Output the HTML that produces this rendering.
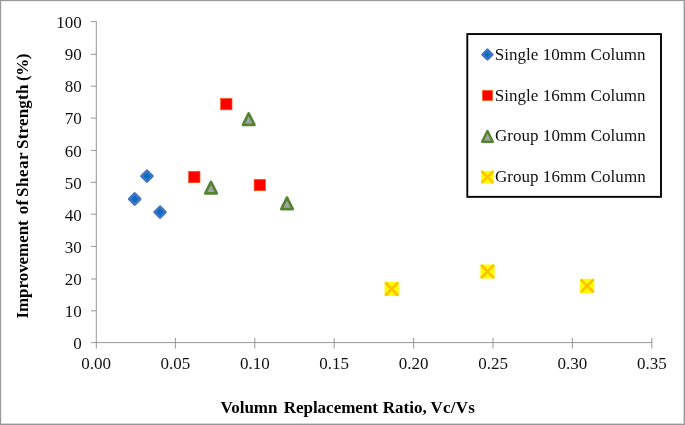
<!DOCTYPE html>
<html><head><meta charset="utf-8"><title>chart</title>
<style>
html,body{margin:0;padding:0;background:#fff;}
body{width:685px;height:425px;overflow:hidden;}
svg{display:block;will-change:transform;}
text{font-family:"Liberation Serif",serif;fill:#111;}
.t{font-size:17px;}
.b{font-size:17px;font-weight:bold;fill:#000;}
</style></head><body>
<svg width="685" height="425" viewBox="0 0 685 425">
<rect x="0" y="0" width="685" height="425" fill="#fff"/>
<g shape-rendering="crispEdges"><rect x="0" y="1" width="685" height="1" fill="#eeeeee"/><rect x="1" y="0" width="1" height="425" fill="#eeeeee"/><rect x="0" y="423" width="685" height="1" fill="#d6d6d6"/><rect x="683" y="0" width="1" height="425" fill="#d6d6d6"/><rect x="0" y="0" width="685" height="1" fill="#9a9a9a"/><rect x="0" y="0" width="1" height="425" fill="#9a9a9a"/><rect x="0" y="424" width="685" height="1" fill="#979797"/><rect x="684" y="0" width="1" height="425" fill="#979797"/></g>
<g stroke="#8c8c8c" stroke-width="0.9" fill="none">
<line x1="96.3" y1="21.2" x2="96.3" y2="348.6"/>
<line x1="91" y1="342.6" x2="652.2" y2="342.6"/>
<line x1="91" y1="310.80" x2="96.3" y2="310.80"/>
<line x1="91" y1="279.00" x2="96.3" y2="279.00"/>
<line x1="91" y1="246.40" x2="96.3" y2="246.40"/>
<line x1="91" y1="214.20" x2="96.3" y2="214.20"/>
<line x1="91" y1="182.30" x2="96.3" y2="182.30"/>
<line x1="91" y1="150.40" x2="96.3" y2="150.40"/>
<line x1="91" y1="118.10" x2="96.3" y2="118.10"/>
<line x1="91" y1="86.20" x2="96.3" y2="86.20"/>
<line x1="91" y1="54.30" x2="96.3" y2="54.30"/>
<line x1="91" y1="21.60" x2="96.3" y2="21.60"/>
<line x1="175.40" y1="337.9" x2="175.40" y2="348.5"/>
<line x1="254.80" y1="337.9" x2="254.80" y2="348.5"/>
<line x1="334.20" y1="337.9" x2="334.20" y2="348.5"/>
<line x1="413.60" y1="337.9" x2="413.60" y2="348.5"/>
<line x1="493.00" y1="337.9" x2="493.00" y2="348.5"/>
<line x1="572.40" y1="337.9" x2="572.40" y2="348.5"/>
<line x1="651.80" y1="337.9" x2="651.80" y2="348.5"/>
</g>
<text class="t" x="81.7" y="349.20" text-anchor="end">0</text>
<text class="t" x="81.7" y="317.09" text-anchor="end">10</text>
<text class="t" x="81.7" y="284.98" text-anchor="end">20</text>
<text class="t" x="81.7" y="252.87" text-anchor="end">30</text>
<text class="t" x="81.7" y="220.76" text-anchor="end">40</text>
<text class="t" x="81.7" y="188.65" text-anchor="end">50</text>
<text class="t" x="81.7" y="156.54" text-anchor="end">60</text>
<text class="t" x="81.7" y="124.43" text-anchor="end">70</text>
<text class="t" x="81.7" y="92.32" text-anchor="end">80</text>
<text class="t" x="81.7" y="60.21" text-anchor="end">90</text>
<text class="t" x="81.7" y="28.10" text-anchor="end">100</text>
<text class="t" x="96.00" y="368.6" text-anchor="middle">0.00</text>
<text class="t" x="175.40" y="368.6" text-anchor="middle">0.05</text>
<text class="t" x="254.80" y="368.6" text-anchor="middle">0.10</text>
<text class="t" x="334.20" y="368.6" text-anchor="middle">0.15</text>
<text class="t" x="413.60" y="368.6" text-anchor="middle">0.20</text>
<text class="t" x="493.00" y="368.6" text-anchor="middle">0.25</text>
<text class="t" x="572.40" y="368.6" text-anchor="middle">0.30</text>
<text class="t" x="651.80" y="368.6" text-anchor="middle">0.35</text>
<text class="b" y="412.6"><tspan x="220.48" style="letter-spacing:0.000px;">Volumn</tspan><tspan x="283.63" style="letter-spacing:-0.004px;">Replacement</tspan><tspan x="382.73" style="letter-spacing:0.036px;">Ratio,</tspan><tspan x="430.58" style="letter-spacing:0.235px;font-kerning:none;">Vc/Vs</tspan></text>
<text class="b" transform="translate(28,317.3) rotate(-90)" y="0"><tspan x="-1.30" style="letter-spacing:-0.049px;">Improvement</tspan><tspan x="103.12" style="letter-spacing:0.210px;">of</tspan><tspan x="120.36" style="letter-spacing:0.480px;">Shear</tspan><tspan x="168.36" style="letter-spacing:0.189px;">Strength</tspan><tspan x="236.36" style="letter-spacing:-0.430px;">(%)</tspan></text>
<polygon points="146.95,170.60 152.45,176.10 146.95,181.60 141.45,176.10" fill="#0070c0" stroke="#4472c4" stroke-width="2.6" stroke-linejoin="round"/>
<polygon points="134.70,193.50 140.20,199.00 134.70,204.50 129.20,199.00" fill="#0070c0" stroke="#4472c4" stroke-width="2.6" stroke-linejoin="round"/>
<polygon points="160.10,206.60 165.60,212.10 160.10,217.60 154.60,212.10" fill="#0070c0" stroke="#4472c4" stroke-width="2.6" stroke-linejoin="round"/>
<rect x="220.60" y="98.40" width="11.4" height="11.4" fill="#ff0000" stroke="#ff5a14" stroke-width="0.7"/>
<rect x="188.60" y="171.30" width="11.4" height="11.4" fill="#ff0000" stroke="#ff5a14" stroke-width="0.7"/>
<rect x="254.10" y="179.30" width="11.4" height="11.4" fill="#ff0000" stroke="#ff5a14" stroke-width="0.7"/>
<polygon points="248.70,113.35 254.45,124.85 242.95,124.85" fill="#a5a5a5" stroke="#538433" stroke-width="2.7" stroke-linejoin="round"/>
<polygon points="211.00,181.85 216.75,193.35 205.25,193.35" fill="#a5a5a5" stroke="#538433" stroke-width="2.7" stroke-linejoin="round"/>
<polygon points="287.00,197.55 292.75,209.05 281.25,209.05" fill="#a5a5a5" stroke="#538433" stroke-width="2.7" stroke-linejoin="round"/>
<rect x="384.60" y="281.90" width="14.2" height="14.2" rx="1.2" fill="#ffff00"/><path d="M386.00,283.30 L397.40,294.70 M397.40,283.30 L386.00,294.70" stroke="#ffc000" stroke-width="2.7" stroke-linecap="round" fill="none"/>
<rect x="480.40" y="264.40" width="14.2" height="14.2" rx="1.2" fill="#ffff00"/><path d="M481.80,265.80 L493.20,277.20 M493.20,265.80 L481.80,277.20" stroke="#ffc000" stroke-width="2.7" stroke-linecap="round" fill="none"/>
<rect x="580.10" y="278.70" width="14.2" height="14.2" rx="1.2" fill="#ffff00"/><path d="M581.50,280.10 L592.90,291.50 M592.90,280.10 L581.50,291.50" stroke="#ffc000" stroke-width="2.7" stroke-linecap="round" fill="none"/>
<rect x="467.3" y="34.05" width="193.7" height="162.8" fill="#fff" stroke="#000" stroke-width="1.9"/>
<polygon points="487.45,49.65 492.35,54.55 487.45,59.45 482.55,54.55" fill="#0070c0" stroke="#4472c4" stroke-width="2.5" stroke-linejoin="round"/>
<rect x="482.45" y="90.40" width="10.0" height="10.0" fill="#ff0000" stroke="#ff5a14" stroke-width="0.7"/>
<polygon points="487.45,131.00 492.75,141.80 482.15,141.80" fill="#a5a5a5" stroke="#538433" stroke-width="2.5" stroke-linejoin="round"/>
<rect x="481.10" y="170.70" width="12.6" height="12.6" rx="1.2" fill="#ffff00"/><path d="M482.00,171.60 L492.80,182.40 M492.80,171.60 L482.00,182.40" stroke="#ffc000" stroke-width="2.4" stroke-linecap="round" fill="none"/>
<text class="t" x="494.8" y="60.30" style="letter-spacing:0.03px">Single 10mm Column</text>
<text class="t" x="494.8" y="100.85" style="letter-spacing:0.03px">Single 16mm Column</text>
<text class="t" x="495.0" y="141.40" style="letter-spacing:0.03px">Group 10mm Column</text>
<text class="t" x="495.0" y="181.95" style="letter-spacing:0.03px">Group 16mm Column</text>
</svg></body></html>
